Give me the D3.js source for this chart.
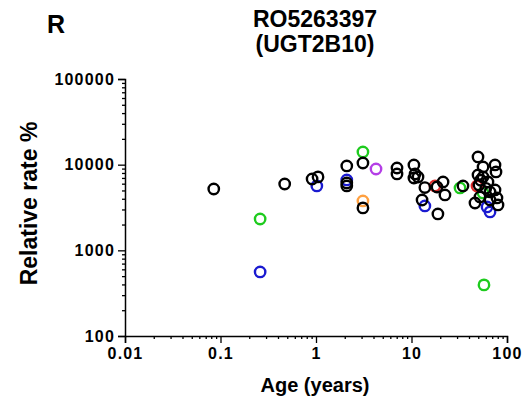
<!DOCTYPE html>
<html>
<head>
<meta charset="utf-8">
<script src="https://cdn.jsdelivr.net/npm/d3@7"></script>
<style>
  body { margin: 0; background: #fff; }
  svg text { font-family: Arial, "Liberation Sans", sans-serif; font-weight: bold; fill: #000; }
</style>
</head>
<body>
<svg id="chart" width="526" height="402"></svg>
<script>
// age in years, relative rate in %
const ageBlack = [0.085, 0.47, 0.91, 1.05, 2.1, 2.1, 2.1, 3.1, 3.1, 7.05, 7.05, 10.6, 10.9, 10.6, 11.7,
  13.8, 12.9, 18.5, 21.4, 22.4, 18.9, 34.6, 49.7, 56.1, 74.9, 76.7, 49.7, 56.1, 50.9, 63.2,
  52.1, 46.2, 66.4, 74.9, 78.5, 80.5, 66.4, 53, 60];
const rateBlack = [5200, 5950, 6800, 7200, 9660, 6110, 5640, 10460, 3130, 9140, 7790, 9920, 7790, 6990, 7180,
  5400, 3870, 5490, 6280, 4430, 2660, 5640, 12300, 9400, 9920, 8220, 7590, 7180, 5790, 6280,
  4200, 3570, 4800, 5070, 4090, 3390, 3870, 6600, 5300];
const ageGreen = [3.1, 0.26, 32.2, 56.1, 57.4];
const rateGreen = [14070, 2320, 5350, 4670, 395];
const ageBlue = [0.26, 1.02, 2.1, 13.8, 61.8, 66.4];
const rateBlue = [560, 5640, 6630, 3300, 3210, 2810];
const ageRed = [17.6, 48.5];
const rateRed = [5640, 5640];
const ageOrange = [3.1];
const rateOrange = [3770];
const agePurple = [4.25];
const ratePurple = [8900];

const xTickLabels = ["0.01", "0.1", "1", "10", "100"];
const yTickLabels = ["100", "1000", "10000", "100000"];

const svg = d3.select("#chart");
const plotL = 125, plotR = 507, plotT = 79, plotB = 336;

const x = d3.scaleLog().domain([0.01, 100]).range([plotL, plotR]);
const y = d3.scaleLog().domain([100, 100000]).range([plotB, plotT]);

const minorX = x.ticks().filter(v => xTickLabels.indexOf(String(v)) < 0);
const minorY = y.ticks().filter(v => yTickLabels.indexOf(String(v)) < 0);

// x axis: major + minor ticks
const gx = svg.append("g").attr("transform", `translate(0,${plotB})`);
gx.call(d3.axisBottom(x).tickValues(xTickLabels.map(Number)).tickSize(7).tickPadding(5)
  .tickFormat((d, i) => xTickLabels[i]));
gx.append("g").call(d3.axisBottom(x).tickValues(minorX).tickSize(3).tickFormat(""))
  .select(".domain").remove();

const gy = svg.append("g").attr("transform", `translate(${plotL},0)`);
gy.call(d3.axisLeft(y).tickValues(yTickLabels.map(Number)).tickSize(7).tickPadding(3)
  .tickFormat((d, i) => yTickLabels[i]));
gy.append("g").call(d3.axisLeft(y).tickValues(minorY).tickSize(3).tickFormat(""))
  .select(".domain").remove();

svg.selectAll(".domain").attr("stroke", "#000").attr("stroke-width", 1.5);
svg.selectAll(".tick line").attr("stroke", "#000").attr("stroke-width", 1.3);
svg.selectAll(".tick text").style("font-size", "16px").style("font-weight", "bold")
  .style("letter-spacing", "1.2px")
  .style("font-family", "Arial, 'Liberation Sans', sans-serif").attr("fill", "#000");

// points: coloured groups first, black on top
const groups = [
  {age: ageBlue, rate: rateBlue, color: "#1a1ad0"},
  {age: ageGreen, rate: rateGreen, color: "#1ecb1e"},
  {age: ageRed, rate: rateRed, color: "#e02a2a"},
  {age: ageOrange, rate: rateOrange, color: "#ffa040"},
  {age: agePurple, rate: ratePurple, color: "#b43ee6"},
  {age: ageBlack, rate: rateBlack, color: "#000"},
];

groups.forEach(g => {
  svg.append("g").selectAll("circle")
    .data(g.age.map((a, i) => [a, g.rate[i]]))
    .enter()
    .append("circle")
    .attr("cx", d => x(d[0]))
    .attr("cy", d => y(d[1]))
    .attr("r", 5.2)
    .attr("fill", "none")
    .attr("stroke", g.color)
    .attr("stroke-width", 2.4);
});

// titles
svg.append("text").attr("x", 47).attr("y", 33).style("font-size", "25px").text("R");
svg.append("text").attr("x", 315).attr("y", 27).attr("text-anchor", "middle")
  .style("font-size", "23px").text("RO5263397");
svg.append("text").attr("x", 315).attr("y", 52).attr("text-anchor", "middle")
  .style("font-size", "23px").text("(UGT2B10)");

svg.append("text").attr("transform", `translate(37,${(plotT + plotB) / 2 - 4}) rotate(-90)`)
  .attr("text-anchor", "middle").style("font-size", "23px").text("Relative rate %");
svg.append("text").attr("x", 315).attr("y", 392).attr("text-anchor", "middle")
  .style("font-size", "20px").text("Age (years)");
</script>
</body>
</html>
